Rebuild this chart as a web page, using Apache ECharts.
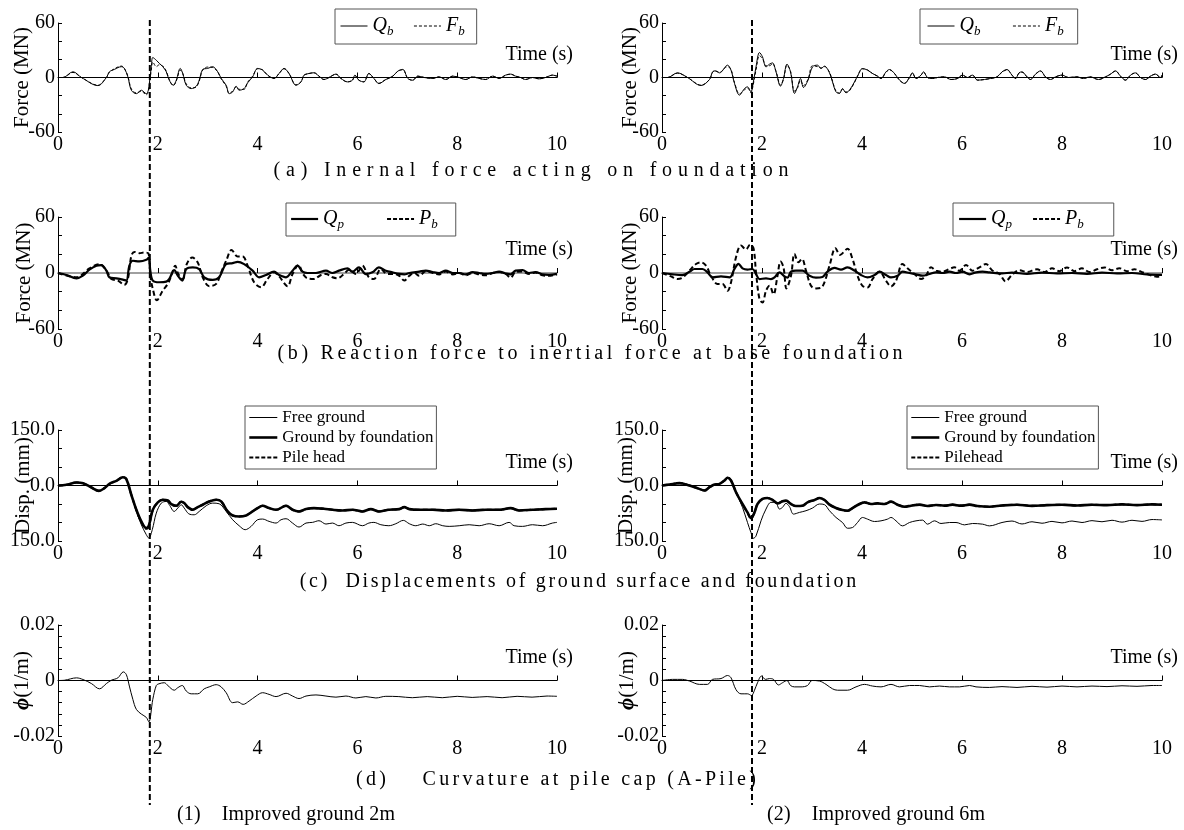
<!DOCTYPE html>
<html><head><meta charset="utf-8">
<script src="https://cdn.jsdelivr.net/npm/echarts@6/dist/echarts.min.js"></script>
<style>html,body{margin:0;padding:0;background:#fff}#c{width:1184px;height:830px}</style>
</head><body><div id="c"></div>
<script>
// ---------- tick / axis definitions ----------
const timeTicks = [0, 2, 4, 6, 8, 10];
const forceRange = [-60, 60];
const dispRange = [-150, 150];
const curvRange = [-0.02, 0.02];
const peakTime = [1.84, 1.80];   // vertical dashed markers (left, right)

// ---------- (a) internal force acting on foundation ----------
const aL_Qb = [[0,0],[0.1,0],[0.3,6.3],[0.47,0],[0.8,-8.9],[0.97,0],[1.03,6.3],[1.13,8.9],[1.27,11.9],[1.33,10],[1.4,0.7],[1.47,-14],[1.57,-17.8],[1.67,-14],[1.77,-17.8],[1.81,-14],[1.83,-6.7],[1.87,11.9],[1.9,22],[1.97,19],[2.03,15.6],[2.1,11.9],[2.17,6.3],[2.23,-3],[2.31,-8.5],[2.37,-3],[2.45,10],[2.5,4.4],[2.57,-8.5],[2.67,-12.2],[2.77,-9.6],[2.83,-3],[2.9,8.9],[3.0,10],[3.1,11.9],[3.2,6.3],[3.27,-1],[3.37,-8.5],[3.43,-17.8],[3.5,-15.9],[3.57,-9.6],[3.63,-14],[3.73,-12.2],[3.8,-5.9],[3.9,0.7],[4.0,10],[4.1,8.1],[4.2,2.6],[4.33,-1],[4.43,4.4],[4.53,10],[4.63,4.4],[4.77,-8.5],[4.87,-4.8],[4.93,2.6],[5.03,4.4],[5.13,5.2],[5.23,1.5],[5.33,-2.2],[5.43,0],[5.57,3.7],[5.67,-1],[5.8,-4.8],[5.9,-3],[5.95,2.6],[6.03,-3],[6.13,-4.8],[6.23,4.4],[6.33,-1],[6.43,-6.7],[6.57,-2.2],[6.71,1.5],[6.81,7],[6.91,8.9],[7.01,-1],[7.11,-3],[7.21,1.5],[7.34,0],[7.51,-1],[7.64,0.7],[7.77,-2.2],[7.91,1.5],[8.04,0],[8.17,-2.2],[8.31,0.7],[8.44,-1],[8.57,-2.2],[8.71,1.5],[8.84,-1],[8.97,2.6],[9.07,3.7],[9.17,1.5],[9.27,0],[9.37,-2.2],[9.51,0],[9.64,-1.5],[9.77,0],[9.91,2.6],[10,1.5]];
const aL_Fb = [[0,0],[0.1,0],[0.3,5.6],[0.47,0],[0.8,-8.5],[0.97,0],[1.03,5.6],[1.13,9.6],[1.27,12.6],[1.33,10],[1.4,1.5],[1.47,-12.6],[1.57,-17],[1.67,-15.2],[1.77,-19],[1.81,-16],[1.83,-8],[1.87,8],[1.9,17],[1.97,12],[2.03,14],[2.1,12.6],[2.17,7],[2.23,-2.2],[2.31,-8.9],[2.37,-4],[2.45,8],[2.5,4.4],[2.57,-7],[2.67,-11.5],[2.77,-10.4],[2.83,-4],[2.9,8.1],[3.0,11.5],[3.1,11],[3.2,6.3],[3.27,-1.5],[3.37,-9.6],[3.43,-17],[3.5,-15.2],[3.57,-10.4],[3.63,-13],[3.73,-13],[3.8,-5.2],[3.9,1.5],[4.0,9.6],[4.1,8.5],[4.2,2.6],[4.33,-1],[4.43,4.4],[4.53,9.6],[4.63,4.4],[4.77,-8.1],[4.87,-4.8],[4.93,2.2],[5.03,4.4],[5.13,5.2],[5.23,1.5],[5.33,-2.2],[5.43,0],[5.57,3.7],[5.67,-1],[5.8,-4.8],[5.9,-3],[5.95,2.2],[6.03,-3],[6.13,-4.8],[6.23,4.4],[6.33,-1],[6.43,-6.3],[6.57,-2.2],[6.71,1.5],[6.81,7],[6.91,8.5],[7.01,-1],[7.11,-3],[7.21,1.5],[7.34,0],[7.51,-1],[7.64,0.7],[7.77,-2.2],[7.91,1.5],[8.04,0],[8.17,-2.2],[8.31,0.7],[8.44,-1],[8.57,-2.2],[8.71,1.5],[8.84,-1],[8.97,2.6],[9.07,3.7],[9.17,1.5],[9.27,0],[9.37,-2.2],[9.51,0],[9.64,-1.5],[9.77,0],[9.91,2.6],[10,1.5]];
const aR_Qb = [[0,0],[0.11,0],[0.31,5.1],[0.51,0],[0.78,-8.8],[0.95,-2.2],[1.01,6.2],[1.06,7.3],[1.15,5.1],[1.31,13.6],[1.38,8.1],[1.45,-6.6],[1.55,-19.4],[1.65,-12.1],[1.71,-10.3],[1.78,-15.8],[1.81,-10.3],[1.88,11.7],[1.95,27.5],[2.01,22.7],[2.08,11.7],[2.15,14.7],[2.21,16.1],[2.28,6.2],[2.37,-9.5],[2.43,-1.1],[2.5,14.7],[2.57,6.2],[2.65,-17.6],[2.71,-10.3],[2.77,-1.1],[2.83,-11],[2.92,-3],[3.01,11.7],[3.11,13.6],[3.18,9.9],[3.25,12.5],[3.35,5.1],[3.41,-4.8],[3.48,-15.8],[3.55,-17.6],[3.61,-12.1],[3.68,-16.8],[3.75,-13.9],[3.85,-4.8],[3.91,1.5],[4.01,9.9],[4.11,8.1],[4.21,4.4],[4.31,1.5],[4.38,-1.1],[4.48,6.2],[4.55,8.8],[4.65,4.4],[4.75,-2.9],[4.85,-6.6],[4.95,0],[5.01,5.1],[5.08,-1.1],[5.18,2.6],[5.23,6.2],[5.31,0],[5.41,-1.1],[5.51,0],[5.65,0.7],[5.78,-2.2],[5.91,-1.1],[6.01,2.6],[6.11,0],[6.21,2.6],[6.31,-2.9],[6.45,-2.2],[6.57,-1.1],[6.7,0.7],[6.8,6.2],[6.9,8.8],[7.0,2.6],[7.07,-1.1],[7.14,5.1],[7.2,6.2],[7.3,0.7],[7.37,-2.2],[7.47,3.7],[7.57,7.3],[7.67,0.7],[7.77,-2.2],[7.87,0.7],[8.0,2.6],[8.13,0],[8.3,0.7],[8.43,-1.1],[8.56,0.7],[8.73,-2.2],[8.87,0.7],[8.97,3.7],[9.07,7.3],[9.17,1.5],[9.27,-2.9],[9.37,2.6],[9.47,5.1],[9.57,0],[9.67,-2.2],[9.77,1.5],[9.87,3.7],[9.97,0],[10,2.6]];
const aR_Fb = [[0,0],[0.11,0],[0.31,4.8],[0.51,0],[0.78,-8.4],[0.95,-2.2],[1.01,5.5],[1.06,7.3],[1.15,5.8],[1.31,12],[1.38,8.8],[1.45,-5.5],[1.55,-18],[1.65,-13.5],[1.71,-11.5],[1.78,-17],[1.81,-12],[1.88,8],[1.95,24],[2.01,21],[2.08,13],[2.15,13],[2.21,15],[2.28,7],[2.37,-8.4],[2.43,-2],[2.5,13.5],[2.57,7],[2.65,-15],[2.71,-11.5],[2.77,-3],[2.83,-9],[2.92,-2],[3.01,13],[3.11,12],[3.18,10.5],[3.25,12],[3.35,5.8],[3.41,-4],[3.48,-15],[3.55,-17],[3.61,-13],[3.68,-16],[3.75,-14.5],[3.85,-5.5],[3.91,1.5],[4.01,9.5],[4.11,8.4],[4.21,4.4],[4.31,1.5],[4.38,-1.1],[4.48,5.8],[4.55,8.4],[4.65,4.4],[4.75,-2.9],[4.85,-6.2],[4.95,0],[5.01,4.8],[5.08,-1.1],[5.18,2.6],[5.23,5.8],[5.31,0],[5.41,-1.1],[5.51,0],[5.65,0.7],[5.78,-2.2],[5.91,-1.1],[6.01,2.6],[6.11,0],[6.21,2.6],[6.31,-2.9],[6.45,-2.2],[6.57,-1.1],[6.7,0.7],[6.8,5.8],[6.9,8.4],[7.0,2.6],[7.07,-1.1],[7.14,4.8],[7.2,5.8],[7.3,0.7],[7.37,-2.2],[7.47,3.7],[7.57,7],[7.67,0.7],[7.77,-2.2],[7.87,0.7],[8.0,2.6],[8.13,0],[8.3,0.7],[8.43,-1.1],[8.56,0.7],[8.73,-2.2],[8.87,0.7],[8.97,3.7],[9.07,7],[9.17,1.5],[9.27,-2.9],[9.37,2.6],[9.47,5.1],[9.57,0],[9.67,-2.2],[9.77,1.5],[9.87,3.7],[9.97,0],[10,2.6]];

// ---------- (b) reaction force ----------
const bL_Qp = [[0,0],[0.17,-2.1],[0.37,-5.7],[0.5,-2.8],[0.63,3.5],[0.77,7.8],[0.87,8.5],[0.97,2.5],[1.03,-4.6],[1.17,-5.7],[1.3,-7.1],[1.37,-8.1],[1.43,7.8],[1.5,13.1],[1.63,12.4],[1.77,14.1],[1.82,16.6],[1.85,2.5],[1.9,-8.1],[2.03,-9.9],[2.17,-9.2],[2.23,-6.4],[2.33,3.2],[2.4,-2.8],[2.49,-8.1],[2.57,4.2],[2.7,6],[2.83,4.2],[2.93,-4.6],[3.1,-7.4],[3.23,-4.6],[3.37,9.5],[3.5,10.6],[3.6,12],[3.73,9.5],[3.9,2.5],[4.03,-4.6],[4.17,-2.1],[4.33,1.4],[4.43,-2.1],[4.57,-4.6],[4.7,2.5],[4.8,7.8],[4.9,1.4],[5.0,0],[5.17,0],[5.37,2.5],[5.5,0],[5.63,2.5],[5.8,4.9],[5.9,1.4],[6.03,6],[6.17,-1.1],[6.3,0.7],[6.43,6],[6.57,2.5],[6.7,0.7],[6.84,-1],[6.94,-1.5],[7.04,0],[7.24,1.5],[7.37,2.5],[7.51,1],[7.64,0],[7.77,2.5],[7.91,0],[8.04,0],[8.17,-1.5],[8.31,1],[8.44,0],[8.57,-1],[8.71,0],[8.84,1.5],[8.97,-0.5],[9.07,-1.5],[9.17,2.5],[9.31,3],[9.44,0],[9.57,1],[9.71,-1.5],[9.84,-2],[10,-1]];
const bL_Pb = [[0,0],[0.37,-4.6],[0.63,4.9],[0.83,9.5],[0.97,2.5],[1.07,-6.4],[1.2,-8.1],[1.33,-12.7],[1.4,-6.4],[1.47,18.4],[1.53,22.6],[1.63,21.2],[1.73,21.9],[1.81,21.2],[1.85,-2.8],[1.9,-17],[1.98,-29.3],[2.1,-18.7],[2.2,-11.7],[2.27,-2.8],[2.35,7.8],[2.41,-1.1],[2.5,-6.4],[2.58,9.5],[2.69,16.6],[2.8,11.3],[2.9,-4.6],[3.03,-14.1],[3.17,-11.7],[3.27,0.7],[3.37,13.1],[3.48,24.7],[3.6,17.7],[3.7,17.7],[3.8,7.8],[3.93,-9.9],[4.07,-15.2],[4.2,-6.4],[4.33,0.7],[4.43,-3.5],[4.6,-14.1],[4.7,-1.1],[4.82,8.5],[4.91,-1.1],[5.0,-5.7],[5.13,-6.4],[5.27,-2.1],[5.37,-1.1],[5.5,-4.6],[5.6,-5.7],[5.73,-1.1],[5.83,3.5],[5.97,-1.1],[6.1,7.8],[6.23,-4.6],[6.33,-6.4],[6.47,4.2],[6.6,-1.1],[6.74,-1],[6.84,-3],[6.94,-8],[7.04,-3],[7.14,0],[7.24,-3],[7.37,2],[7.51,0],[7.64,-1.5],[7.77,1.5],[7.91,-1.5],[8.04,0],[8.17,-2.5],[8.31,0],[8.44,-1.5],[8.57,-2.5],[8.71,0],[8.84,1],[8.97,-1],[9.07,-5],[9.17,1],[9.31,1.5],[9.44,-1],[9.57,0.5],[9.71,-2.5],[9.84,-3],[10,-1.5]];
const bR_Qp = [[0,0],[0.21,-1.4],[0.41,-2.2],[0.55,1.4],[0.65,4.3],[0.81,4.3],[0.91,0.7],[1.01,-4.7],[1.18,-3.6],[1.35,-4.7],[1.45,4.3],[1.53,9.7],[1.61,5],[1.71,3.6],[1.81,4.3],[1.88,-1.1],[1.95,-6.5],[2.08,-5.8],[2.18,-6.5],[2.25,-4.7],[2.35,0.7],[2.45,-3.6],[2.51,-5],[2.58,1.4],[2.68,2.5],[2.81,2.5],[2.95,-2.9],[3.08,-5],[3.21,-4.3],[3.31,1.4],[3.45,5.4],[3.58,3.6],[3.71,6.1],[3.85,2.5],[3.98,-2.2],[4.11,-4.7],[4.25,-2.2],[4.35,1.4],[4.48,-2.2],[4.58,-4.7],[4.71,-2.9],[4.81,1.4],[4.95,0],[5.08,-1.4],[5.21,-2.9],[5.35,-1.1],[5.48,0.7],[5.61,0],[5.75,1.4],[5.88,0],[6.01,1.4],[6.15,-1.4],[6.28,0.7],[6.41,1.4],[6.55,0.7],[6.8,-0.5],[7.0,0.5],[7.3,-1],[7.6,0.5],[7.9,-0.5],[8.2,0],[8.5,-1],[8.8,0.5],[9.1,-0.5],[9.4,0],[9.7,-1.5],[10,-2]];
const bR_Pb = [[0,0],[0.18,-3.6],[0.31,-6.5],[0.41,-5],[0.55,2.5],[0.68,9.7],[0.78,11.5],[0.88,7.9],[0.98,-2.9],[1.11,-11.9],[1.21,-11.9],[1.31,-19.1],[1.38,-10.1],[1.48,16.9],[1.58,29.5],[1.68,25.2],[1.76,30.2],[1.83,26.6],[1.88,0.7],[1.95,-28.1],[2.01,-31.7],[2.08,-19.1],[2.15,-13.7],[2.23,-22.7],[2.31,-2.9],[2.37,12.2],[2.43,6.1],[2.49,-16.5],[2.58,-2.9],[2.65,20.5],[2.73,11.5],[2.8,15.1],[2.88,2.5],[2.98,-13.7],[3.08,-16.5],[3.21,-14.4],[3.35,7.9],[3.47,26.6],[3.56,19.4],[3.71,25.9],[3.81,15.1],[3.91,-2.9],[4.01,-13.7],[4.11,-15.5],[4.21,-6.5],[4.35,1.4],[4.48,-8.3],[4.58,-14.4],[4.68,-8.3],[4.81,9.7],[4.91,5],[5.05,-1.1],[5.18,-6.5],[5.28,-2.9],[5.38,6.1],[5.48,2.5],[5.61,1.4],[5.75,4.3],[5.85,6.1],[5.95,2.5],[6.08,8.6],[6.21,2.5],[6.35,6.1],[6.48,9.7],[6.6,3],[6.75,-1],[6.87,-9],[7.0,-2],[7.15,3],[7.3,1],[7.5,4],[7.65,1],[7.8,5],[7.95,2],[8.1,6],[8.25,2],[8.4,5],[8.55,1],[8.7,4],[8.85,6],[9.0,3],[9.15,5],[9.3,2],[9.45,4],[9.6,1],[9.75,-2],[9.9,-4],[10,-3]];

// ---------- (c) displacements ----------
const cL_free = [[0,0],[0.17,1.8],[0.37,8.1],[0.5,6.3],[0.67,-5.4],[0.82,-14.4],[0.93,-7.2],[1.03,4.5],[1.17,12.6],[1.3,22.5],[1.37,17.1],[1.47,-25.2],[1.57,-70.1],[1.67,-106],[1.77,-133],[1.82,-142],[1.89,-119.2],[1.97,-74.6],[2.07,-47.6],[2.17,-43.1],[2.23,-52.1],[2.33,-70.1],[2.4,-61.1],[2.47,-52.1],[2.53,-61.1],[2.62,-76.4],[2.73,-79.1],[2.83,-70.1],[2.97,-54.8],[3.1,-47.6],[3.23,-49.4],[3.37,-70.1],[3.5,-92.5],[3.63,-108.7],[3.75,-119.5],[3.87,-110.5],[4.0,-92.5],[4.1,-90.7],[4.23,-97],[4.37,-101.5],[4.47,-92.5],[4.57,-89.8],[4.7,-101.5],[4.83,-112.3],[4.97,-101.5],[5.1,-99.7],[5.23,-95.2],[5.37,-104.2],[5.5,-101.5],[5.63,-108.7],[5.77,-101.5],[5.9,-99.7],[6.1,-108.7],[6.23,-101.5],[6.33,-99.7],[6.47,-106],[6.63,-108.7],[6.77,-103.3],[6.92,-94.3],[7.04,-103.3],[7.17,-108.7],[7.31,-104.2],[7.44,-108.7],[7.57,-103.3],[7.71,-108.7],[7.84,-110.5],[8.04,-108.7],[8.24,-106],[8.44,-108.7],[8.64,-103.3],[8.84,-108.7],[9.04,-99.7],[9.14,-108.7],[9.31,-110.5],[9.51,-106],[9.71,-108.7],[9.91,-101.5],[10,-99.7]];
const cL_ground = [[0,0],[0.17,1.8],[0.37,8.1],[0.5,6.3],[0.67,-5.4],[0.82,-14.4],[0.93,-7.2],[1.03,4.5],[1.17,12.6],[1.3,22.5],[1.37,17.1],[1.47,-25.2],[1.57,-65.6],[1.67,-97],[1.77,-115],[1.82,-108.7],[1.9,-65.6],[2.0,-45.8],[2.1,-38.6],[2.2,-40.4],[2.27,-50.3],[2.37,-54.8],[2.47,-44],[2.53,-47.6],[2.6,-58.4],[2.7,-65.6],[2.8,-58.4],[2.9,-52.1],[3.03,-43.1],[3.17,-38.6],[3.27,-43.1],[3.4,-70.1],[3.5,-80.9],[3.63,-83.6],[3.77,-80.9],[3.9,-70.1],[4.0,-61.1],[4.1,-54.8],[4.23,-61.1],[4.37,-65.6],[4.57,-54.8],[4.7,-65.6],[4.83,-70.1],[4.97,-63.8],[5.13,-61.1],[5.33,-62.9],[5.5,-65.6],[5.7,-67.4],[5.9,-65.6],[6.1,-70.1],[6.27,-63.8],[6.43,-70.1],[6.63,-65.6],[6.84,-63.8],[6.94,-58.4],[7.04,-63.8],[7.24,-65.6],[7.51,-65.6],[7.77,-67.4],[8.04,-65.6],[8.31,-67.4],[8.57,-65.6],[8.84,-65.6],[9.07,-61.1],[9.24,-67.4],[9.51,-65.6],[9.77,-63.8],[10,-62.9]];
const cL_pile = [[0,0],[0.17,1.8],[0.37,8.1],[0.5,6.3],[0.67,-5.4],[0.82,-14.4],[0.93,-7.2],[1.03,4.5],[1.17,12.6],[1.3,22.5],[1.37,17.1],[1.47,-25.2],[1.57,-66],[1.67,-99],[1.77,-117],[1.82,-110],[1.9,-66],[2.0,-46],[2.1,-38.6],[2.2,-41],[2.27,-51],[2.37,-55],[2.47,-44],[2.53,-48],[2.6,-58.4],[2.7,-65],[2.8,-58.4],[2.9,-52],[3.03,-43.1],[3.17,-38.6],[3.27,-43.1],[3.4,-70.1],[3.5,-80.9],[3.63,-83.6],[3.77,-80.9],[3.9,-70.1],[4.0,-61.1],[4.1,-54.8],[4.23,-61.1],[4.37,-65.6],[4.57,-54.8],[4.7,-65.6],[4.83,-70.1],[4.97,-63.8],[5.13,-61.1],[5.33,-62.9],[5.5,-65.6],[5.7,-67.4],[5.9,-65.6],[6.1,-70.1],[6.27,-63.8],[6.43,-70.1],[6.63,-65.6],[6.84,-63.8],[6.94,-58.4],[7.04,-63.8],[7.24,-65.6],[7.51,-65.6],[7.77,-67.4],[8.04,-65.6],[8.31,-67.4],[8.57,-65.6],[8.84,-65.6],[9.07,-61.1],[9.24,-67.4],[9.51,-65.6],[9.77,-63.8],[10,-62.9]];
const cR_free = [[0,0],[0.15,2.7],[0.35,6.4],[0.55,0],[0.71,-7.3],[0.85,-13.6],[0.95,-4.5],[1.05,2.7],[1.15,4.5],[1.25,13.6],[1.31,22],[1.38,15],[1.48,-18.2],[1.61,-59.1],[1.71,-100],[1.78,-127.3],[1.83,-142.7],[1.88,-136.4],[1.98,-95.5],[2.08,-63.6],[2.18,-45.5],[2.27,-45.5],[2.35,-63.6],[2.41,-59.1],[2.48,-48.2],[2.55,-57.3],[2.63,-77.3],[2.75,-72.7],[2.88,-68.2],[3.01,-60.9],[3.15,-50],[3.25,-51.8],[3.35,-68.2],[3.48,-86.4],[3.61,-100],[3.71,-115.5],[3.81,-113.6],[3.91,-100],[4.01,-86.4],[4.11,-90.9],[4.25,-97.3],[4.38,-95.5],[4.51,-90.9],[4.58,-86.4],[4.68,-95.5],[4.81,-109.1],[4.95,-100],[5.08,-95.5],[5.21,-93.6],[5.31,-104.5],[5.45,-95.5],[5.58,-102.7],[5.75,-100],[5.88,-100],[6.05,-106.4],[6.21,-102.7],[6.41,-104.5],[6.55,-109.1],[6.8,-100],[7.0,-96],[7.2,-104],[7.4,-98],[7.6,-102],[7.8,-97],[8.0,-101],[8.2,-96],[8.4,-100],[8.6,-95],[8.8,-98],[9.0,-94],[9.2,-99],[9.4,-94],[9.6,-97],[9.8,-92],[10,-93]];
const cR_ground = [[0,0],[0.15,2.7],[0.35,6.4],[0.55,0],[0.71,-7.3],[0.85,-13.6],[0.95,-4.5],[1.05,2.7],[1.15,4.5],[1.25,13.6],[1.31,20.9],[1.38,13.6],[1.48,-18.2],[1.61,-50],[1.71,-72.7],[1.78,-88.2],[1.85,-72.7],[1.91,-50],[2.01,-36.4],[2.11,-33.6],[2.21,-39.1],[2.31,-48.2],[2.41,-42.7],[2.48,-40.9],[2.58,-50],[2.68,-55.5],[2.81,-54.5],[2.91,-45.5],[3.05,-39.1],[3.15,-33.6],[3.25,-39.1],[3.35,-51.8],[3.48,-60.9],[3.61,-66.4],[3.71,-68.2],[3.81,-60.9],[3.95,-50],[4.05,-45.5],[4.18,-50],[4.31,-48.2],[4.45,-50],[4.58,-43.6],[4.71,-51.8],[4.85,-57.3],[4.98,-54.5],[5.15,-51.8],[5.31,-55.5],[5.48,-52.7],[5.65,-54.5],[5.81,-51.8],[5.98,-54.5],[6.15,-51.8],[6.31,-55.5],[6.55,-57.3],[6.8,-54],[7.1,-52],[7.4,-55],[7.7,-53],[8.0,-52],[8.3,-54],[8.6,-52],[8.9,-53],[9.2,-51],[9.5,-53],[9.8,-51],[10,-52]];
const cR_pile = [[0,0],[0.15,2.7],[0.35,6.4],[0.55,0],[0.71,-7.3],[0.85,-13.6],[0.95,-4.5],[1.05,2.7],[1.15,4.5],[1.25,13.6],[1.31,20.9],[1.38,13.6],[1.48,-18.2],[1.61,-51],[1.71,-74],[1.78,-89],[1.85,-73],[1.91,-50],[2.01,-36.4],[2.11,-33.6],[2.21,-39.1],[2.31,-48.2],[2.41,-42.7],[2.48,-40.9],[2.58,-50],[2.68,-55.5],[2.81,-54.5],[2.91,-45.5],[3.05,-39.1],[3.15,-33.6],[3.25,-39.1],[3.35,-51.8],[3.48,-60.9],[3.61,-66.4],[3.71,-68.2],[3.81,-60.9],[3.95,-50],[4.05,-45.5],[4.18,-50],[4.31,-48.2],[4.45,-50],[4.58,-43.6],[4.71,-51.8],[4.85,-57.3],[4.98,-54.5],[5.15,-51.8],[5.31,-55.5],[5.48,-52.7],[5.65,-54.5],[5.81,-51.8],[5.98,-54.5],[6.15,-51.8],[6.31,-55.5],[6.55,-57.3],[6.8,-54],[7.1,-52],[7.4,-55],[7.7,-53],[8.0,-52],[8.3,-54],[8.6,-52],[8.9,-53],[9.2,-51],[9.5,-53],[9.8,-51],[10,-52]];

// ---------- (d) curvature ----------
const dL_phi = [[0,0],[0.13,0.0001],[0.37,0.00095],[0.5,0.00036],[0.67,-0.0011],[0.83,-0.003],[0.97,-0.0011],[1.07,0.0001],[1.2,0.00095],[1.31,0.0031],[1.37,0.0021],[1.43,-0.002],[1.5,-0.0068],[1.57,-0.0104],[1.67,-0.0121],[1.77,-0.0133],[1.82,-0.0149],[1.9,-0.0068],[1.97,-0.0018],[2.02,-0.0012],[2.13,-0.0008],[2.2,-0.0018],[2.33,-0.0035],[2.4,-0.0026],[2.49,-0.0018],[2.57,-0.0038],[2.67,-0.0048],[2.8,-0.0048],[2.93,-0.003],[3.03,-0.0023],[3.17,-0.0015],[3.27,-0.0023],[3.37,-0.0044],[3.5,-0.008],[3.6,-0.0077],[3.71,-0.0086],[3.83,-0.0074],[3.97,-0.0056],[4.1,-0.0044],[4.23,-0.005],[4.37,-0.0058],[4.57,-0.0046],[4.7,-0.0056],[4.83,-0.0065],[4.97,-0.0056],[5.17,-0.0052],[5.37,-0.0056],[5.57,-0.006],[5.77,-0.0056],[5.97,-0.0063],[6.17,-0.0058],[6.37,-0.0063],[6.57,-0.0057],[6.83,-0.0058],[7.1,-0.0062],[7.4,-0.0058],[7.7,-0.0062],[8.0,-0.0057],[8.3,-0.0061],[8.6,-0.0058],[8.9,-0.0062],[9.2,-0.0057],[9.5,-0.006],[9.8,-0.0056],[10,-0.0057]];
const dR_phi = [[0,0],[0.21,0.0004],[0.41,0.0004],[0.55,-0.0002],[0.75,-0.0014],[0.91,-0.0014],[1.01,0.0004],[1.18,0.0007],[1.31,0.0018],[1.38,0.001],[1.48,-0.0033],[1.58,-0.0048],[1.71,-0.0048],[1.79,-0.0054],[1.85,-0.0035],[1.91,-0.0008],[1.99,0.0016],[2.07,0.0004],[2.15,0.0007],[2.23,0.0004],[2.33,-0.0016],[2.41,-0.0008],[2.5,0],[2.57,-0.0018],[2.65,-0.0023],[2.78,-0.0023],[2.91,-0.0018],[3.0,0],[3.15,-0.0002],[3.28,-0.0014],[3.41,-0.003],[3.51,-0.0035],[3.71,-0.0035],[3.88,-0.0023],[4.05,-0.0014],[4.21,-0.002],[4.38,-0.0023],[4.58,-0.0014],[4.75,-0.0023],[4.95,-0.0018],[5.15,-0.0018],[5.35,-0.0023],[5.55,-0.002],[5.75,-0.0023],[5.95,-0.0023],[6.15,-0.0018],[6.28,-0.0023],[6.55,-0.0025],[6.8,-0.0022],[7.1,-0.0025],[7.4,-0.0021],[7.7,-0.0024],[8.0,-0.002],[8.3,-0.0023],[8.6,-0.002],[8.9,-0.0022],[9.2,-0.0019],[9.5,-0.0021],[9.8,-0.0018],[10,-0.0018]];

// ---------- texts ----------
const captions = [
  '(a) Inernal force acting on foundation',
  '(b) Reaction force to inertial force at base foundation',
  '(c)  Displacements of ground surface and foundation',
  '(d)    Curvature at pile cap (A-Pile)',
  '(1)    Improved ground 2m',
  '(2)    Improved ground 6m'
];

// ---------- layout (pixels) ----------
const FONT = '"Liberation Serif", "Times New Roman", serif';
const cols = [{left: 58, width: 499}, {left: 662, width: 500}];
const rows = [{top: 23, height: 109}, {top: 217, height: 112}, {top: 430, height: 111}, {top: 625, height: 111}];
const capPos = [[531, 171], [590, 354], [578, 582], [556, 780], [286, 815], [876, 815]];
const capLetterGap = [5.8, 3.7, 2.7, 3.3, 0.2, 0.2];

const rowSpec = [
  {range: forceRange, interval: 20, name: 'Force (MN)', nameGap: [25, 21], zeroColor: '#000', zeroWidth: 1,
   fmt: v => (v === 60 || v === -60 || v === 0) ? String(v) : ''},
  {range: forceRange, interval: 20, name: 'Force (MN)', nameGap: [23, 21], zeroColor: '#808080', zeroWidth: 1.5,
   fmt: v => (v === 60 || v === -60 || v === 0) ? String(v) : ''},
  {range: dispRange, interval: 50, name: 'Disp. (mm)', nameGap: [24, 25], zeroColor: '#000', zeroWidth: 1,
   fmt: v => (Math.abs(v) === 150) ? '150.0' : (v === 0 ? '0.0' : '')},
  {range: curvRange, interval: 0.004, name: '{p|ϕ}(1/m)', nameGap: [25, 24], zeroColor: '#000', zeroWidth: 1,
   fmt: v => { const r = Math.round(v * 1000) / 1000; return r === 0.02 ? '0.02' : (r === -0.02 ? '-0.02' : (r === 0 ? '0' : '')); }}
];

const grids = [], xAxes = [], yAxes = [];
for (let r = 0; r < 4; r++) {
  for (let c = 0; c < 2; c++) {
    const g = r * 2 + c, s = rowSpec[r];
    grids.push({left: cols[c].left, width: cols[c].width, top: rows[r].top, height: rows[r].height,
      containLabel: false, outerBoundsMode: 'none'});
    xAxes.push({gridIndex: g, type: 'value', min: timeTicks[0], max: timeTicks[timeTicks.length - 1], interval: 2,
      position: 'bottom', axisLine: {show: false, onZero: false}, axisTick: {show: false}, splitLine: {show: false},
      axisLabel: {margin: 3, fontSize: 20, color: '#000', fontFamily: FONT}});
    xAxes.push({gridIndex: g, type: 'value', min: timeTicks[0], max: timeTicks[timeTicks.length - 1], interval: 2,
      position: 'bottom', axisLine: {show: true, onZero: true, lineStyle: {color: s.zeroColor, width: s.zeroWidth}},
      axisTick: {show: true, inside: true, length: 5, lineStyle: {color: '#000', width: 1}},
      axisLabel: {show: false}, splitLine: {show: false},
      name: 'Time (s)', nameLocation: 'end', nameGap: 16, nameMoveOverlap: false,
      nameTextStyle: {fontSize: 20, fontFamily: FONT, color: '#000', align: 'right', verticalAlign: 'bottom', padding: [0, 0, 13, 0]}});
    yAxes.push({gridIndex: g, type: 'value', min: s.range[0], max: s.range[1], interval: s.interval,
      axisLine: {show: true, lineStyle: {color: '#000', width: 1}},
      axisTick: {show: true, inside: true, length: 4, lineStyle: {color: '#000'}},
      splitLine: {show: false},
      axisLabel: {margin: 3, fontSize: 20, color: '#000', fontFamily: FONT, formatter: s.fmt},
      name: s.name, nameLocation: 'middle', nameGap: s.nameGap[c], nameRotate: 90, nameMoveOverlap: false,
      nameTextStyle: {fontSize: 21, fontFamily: FONT, color: '#000',
        rich: {p: {fontSize: 21, fontFamily: FONT, fontStyle: 'italic', fontWeight: 'bold'}}}});
  }
}

function line(name, g, data, width, dash) {
  return {type: 'line', name: name, xAxisIndex: g * 2, yAxisIndex: g, data: data,
    symbol: 'none', showSymbol: false, smooth: 0.35, silent: true,
    lineStyle: {color: '#000', width: width, type: dash || 'solid'}, itemStyle: {color: '#000'}};
}

const series = [
  line('Qb', 0, aL_Qb, 1), line('Fb', 0, aL_Fb, 1, [3, 2]),
  line('Qb', 1, aR_Qb, 1), line('Fb', 1, aR_Fb, 1, [3, 2]),
  line('Qp', 2, bL_Qp, 2.2), line('Pb', 2, bL_Pb, 2, [5, 3]),
  line('Qp', 3, bR_Qp, 2.2), line('Pb', 3, bR_Pb, 2, [5, 3]),
  line('Free ground', 4, cL_free, 1), line('Ground by foundation', 4, cL_ground, 2.6), line('Pile head', 4, cL_pile, 2, [5, 3]),
  line('Free ground', 5, cR_free, 1), line('Ground by foundation', 5, cR_ground, 2.6), line('Pilehead', 5, cR_pile, 2, [5, 3]),
  line('φ', 6, dL_phi, 1), line('φ', 7, dR_phi, 1)
];

const subRich = {
  i: {fontSize: 20, fontFamily: FONT, fontStyle: 'italic', lineHeight: 24, verticalAlign: 'middle', color: '#000'},
  s: {fontSize: 13, fontFamily: FONT, fontStyle: 'italic', lineHeight: 24, verticalAlign: 'bottom', color: '#000'}
};
const subFmt = n => '{i|' + n.charAt(0) + '}{s|' + n.slice(1) + '}';
const hideSymbol = {opacity: 0, borderWidth: 0};
const iconStyle = {
  'Qb': {width: 1, type: 'solid'}, 'Fb': {width: 1, type: [3, 2]},
  'Qp': {width: 2.2, type: 'solid'}, 'Pb': {width: 2, type: [4, 2]},
  'Free ground': {width: 1, type: 'solid'}, 'Ground by foundation': {width: 2.6, type: 'solid'},
  'Pile head': {width: 2, type: [4, 2]}, 'Pilehead': {width: 2, type: [4, 2]}
};
const legendItems = names => names.map(n => ({name: n, lineStyle: Object.assign({color: '#000'}, iconStyle[n])}));
function legendAB(left, top, names, gap, pad) {
  return {left: left, top: top, orient: 'horizontal', data: legendItems(names), itemGap: gap, itemWidth: 27, itemHeight: 12,
    padding: pad, borderColor: '#555', borderWidth: 1, selectedMode: false, formatter: subFmt, itemStyle: hideSymbol,
    textStyle: {fontSize: 20, fontFamily: FONT, color: '#000', rich: subRich}};
}
function legendC(left, top, names) {
  return {left: left, top: top, orient: 'vertical', data: legendItems(names), itemGap: 1, itemWidth: 28, itemHeight: 12,
    padding: [2, 3, 2, 3], borderColor: '#555', borderWidth: 1, selectedMode: false, itemStyle: hideSymbol,
    textStyle: {fontSize: 17, lineHeight: 19, fontFamily: FONT, color: '#000'}};
}

const legends = [
  legendAB(335, 9, ['Qb', 'Fb'], 20, [7, 12, 6, 5]),
  legendAB(920, 9, ['Qb', 'Fb'], 32, [7, 14, 6, 7]),
  legendAB(286, 203, ['Qp', 'Pb'], 42, [6, 18, 5, 4]),
  legendAB(953, 203, ['Qp', 'Pb'], 20, [6, 30, 5, 5]),
  legendC(245, 406, ['Free ground', 'Ground by foundation', 'Pile head']),
  legendC(907, 406, ['Free ground', 'Ground by foundation', 'Pilehead'])
];

// captions: each character is its own rich token so the wide letter spacing can be reproduced
const spaced = t => t.split('').map(ch => '{l|' + ch + '}').join('');
const graphics = captions.map((t, i) => ({type: 'text', x: capPos[i][0], y: capPos[i][1], z: 20,
  style: {text: spaced(t), fontSize: 20, fontFamily: FONT, fill: '#000', align: 'center', verticalAlign: 'middle',
    textAlign: 'center', textVerticalAlign: 'middle',
    rich: {l: {fontSize: 20, fontFamily: FONT, color: '#000', padding: [0, capLetterGap[i] / 2, 0, capLetterGap[i] / 2]}}}}));

const chart = echarts.init(document.getElementById('c'), null, {renderer: 'canvas'});
chart.setOption({
  animation: false, backgroundColor: '#fff',
  grid: grids, xAxis: xAxes, yAxis: yAxes, series: series, legend: legends, graphic: graphics
});

// vertical dashed markers placed through the axis scale
const xl = chart.convertToPixel({xAxisIndex: 0}, peakTime[0]);
const xr = chart.convertToPixel({xAxisIndex: 2}, peakTime[1]);
chart.setOption({graphic: graphics.concat([
  {type: 'line', z: 15, shape: {x1: xl, y1: 20, x2: xl, y2: 805}, style: {stroke: '#000', lineWidth: 2, lineDash: [6, 3]}},
  {type: 'line', z: 15, shape: {x1: xr, y1: 20, x2: xr, y2: 805}, style: {stroke: '#000', lineWidth: 2, lineDash: [6, 3]}}
])});
</script></body></html>
